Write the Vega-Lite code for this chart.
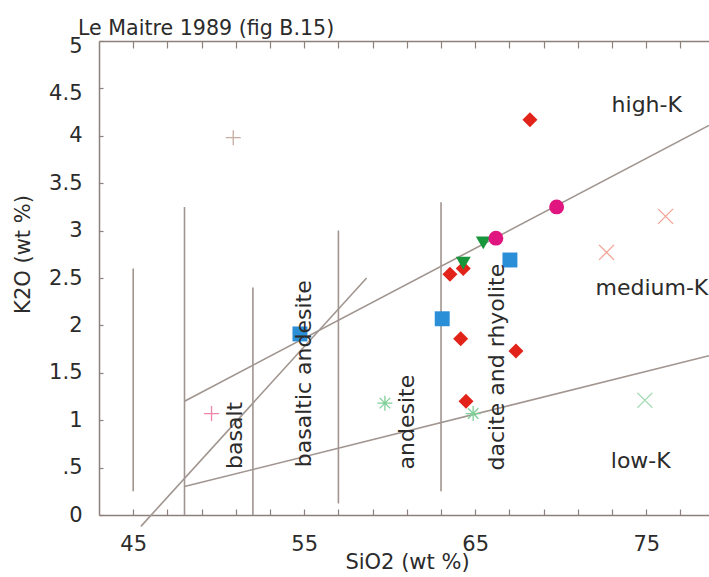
{
  "$schema": "https://vega.github.io/schema/vega-lite/v6.json",
  "autosize": {"type": "none"},
  "padding": {"left": 99, "top": 41, "right": 0, "bottom": 62},
  "width": 610,
  "height": 474,
  "background": "white",
  "title": {"text": "Le Maitre 1989 (fig B.15)", "anchor": "start", "frame": "group", "orient": "top", "baseline": "alphabetic", "offset": 9, "dx": -21, "dy": 30, "font": "DejaVu Sans", "fontSize": 20.6, "fontWeight": "normal", "color": "#2b2b2b"},
  "config": {
    "view": {"stroke": null},
    "axis": {"grid": false, "domainColor": "#8c807c", "domainWidth": 1.5, "tickColor": "#8c807c", "tickWidth": 1.2, "labelFont": "DejaVu Sans", "labelFontSize": 21, "labelColor": "#2b2b2b", "titleFont": "DejaVu Sans", "titleFontSize": 21, "titleFontWeight": "normal", "titleColor": "#2b2b2b"}
  },
  "datasets": {
    "lines": [
      {"x1": 45, "y1": 0.25, "x2": 45, "y2": 2.6},
      {"x1": 48, "y1": 0, "x2": 48, "y2": 3.25},
      {"x1": 52, "y1": 0, "x2": 52, "y2": 2.4},
      {"x1": 57, "y1": 0.12, "x2": 57, "y2": 3.0},
      {"x1": 63, "y1": 0.25, "x2": 63, "y2": 3.3},
      {"x1": 48, "y1": 1.2, "x2": 78.67, "y2": 4.11},
      {"x1": 48, "y1": 0.3, "x2": 78.67, "y2": 1.68},
      {"x1": 45.45, "y1": -0.12, "x2": 58.65, "y2": 2.5}
    ],
    "filledPts": [
      {"SiO2": 68.2, "K2O": 4.17, "sample": "A"},
      {"SiO2": 63.52, "K2O": 2.54, "sample": "A"},
      {"SiO2": 64.3, "K2O": 2.6, "sample": "A"},
      {"SiO2": 64.15, "K2O": 1.86, "sample": "A"},
      {"SiO2": 67.38, "K2O": 1.73, "sample": "A"},
      {"SiO2": 64.46, "K2O": 1.2, "sample": "A"},
      {"SiO2": 54.75, "K2O": 1.91, "sample": "B"},
      {"SiO2": 63.07, "K2O": 2.07, "sample": "B"},
      {"SiO2": 67.03, "K2O": 2.69, "sample": "B"},
      {"SiO2": 64.3, "K2O": 2.655, "sample": "C"},
      {"SiO2": 65.47, "K2O": 2.87, "sample": "C"},
      {"SiO2": 66.21, "K2O": 2.92, "sample": "D"},
      {"SiO2": 69.76, "K2O": 3.25, "sample": "D"}
    ],
    "openPts": [
      {"SiO2": 49.58, "K2O": 1.07, "sample": "E"},
      {"SiO2": 50.85, "K2O": 3.98, "sample": "F"},
      {"SiO2": 72.68, "K2O": 2.77, "sample": "G"},
      {"SiO2": 76.13, "K2O": 3.15, "sample": "G"},
      {"SiO2": 74.92, "K2O": 1.21, "sample": "H"},
      {"SiO2": 59.72, "K2O": 1.18, "sample": "I"},
      {"SiO2": 64.88, "K2O": 1.07, "sample": "I"}
    ],
    "rockLabels": [
      {"SiO2": 50.94, "K2O": 0.84, "label": "basalt"},
      {"SiO2": 54.98, "K2O": 1.49, "label": "basaltic andesite"},
      {"SiO2": 61.0, "K2O": 0.98, "label": "andesite"},
      {"SiO2": 66.29, "K2O": 1.56, "label": "dacite and rhyolite"}
    ],
    "kLabels": [
      {"SiO2": 75.03, "K2O": 4.33, "label": "high-K"},
      {"SiO2": 75.33, "K2O": 2.39, "label": "medium-K"},
      {"SiO2": 74.68, "K2O": 0.57, "label": "low-K"}
    ]
  },
  "layer": [
    {
      "data": {"name": "lines"},
      "mark": {"type": "rule", "color": "#a0958f", "strokeWidth": 1.6},
      "encoding": {
        "x": {"field": "x1", "type": "quantitative", "scale": {"domain": [43, 78.67], "nice": false, "zero": false},
          "axis": {"orient": "bottom", "values": [45, 47, 49, 51, 53, 55, 57, 59, 61, 63, 65, 67, 69, 71, 73, 75, 77], "labelExpr": "(datum.value - 45) % 10 === 0 ? format(datum.value, '~g') : ''", "tickSize": -6, "labelPadding": 24, "labelFlush": false, "labelOverlap": false, "title": "SiO2  (wt %)", "titleX": 308, "titleY": 36, "titleBaseline": "top", "titleAlign": "center"}},
        "x2": {"field": "x2"},
        "y": {"field": "y1", "type": "quantitative", "scale": {"domain": [0, 5], "nice": false, "zero": false},
          "axis": {"orient": "left", "values": [0, 0.5, 1, 1.5, 2, 2.5, 3, 3.5, 4, 4.5, 5], "labelExpr": "datum.value === 0.5 ? '.5' : format(datum.value, '~g')", "labelOffset": {"condition": {"test": "datum.value >= 4.5", "value": 5}, "value": 0}, "tickSize": -4, "labelPadding": 21, "labelFlush": false, "labelOverlap": false, "title": "K2O  (wt %)", "titleX": -76, "titleY": 213, "titleAngle": -90, "titleBaseline": "middle", "titleAlign": "center"}},
        "y2": {"field": "y2"}
      }
    },
    {
      "data": {"name": "filledPts"},
      "mark": {"type": "point", "filled": true, "opacity": 1},
      "encoding": {
        "x": {"field": "SiO2", "type": "quantitative", "scale": {"domain": [43, 78.67], "nice": false, "zero": false},
          "axis": {"orient": "top", "values": [45, 47, 49, 51, 53, 55, 57, 59, 61, 63, 65, 67, 69, 71, 73, 75, 77], "labels": false, "tickSize": -7, "title": null}},
        "y": {"field": "K2O", "type": "quantitative", "scale": {"domain": [0, 5], "nice": false, "zero": false}},
        "shape": {"field": "sample", "type": "nominal", "scale": {"domain": ["A", "B", "C", "D"], "range": ["diamond", "square", "triangle-down", "circle"]}, "legend": null},
        "color": {"field": "sample", "type": "nominal", "scale": {"domain": ["A", "B", "C", "D"], "range": ["#e2231a", "#2b8fd8", "#18963c", "#e0157f"]}, "legend": null},
        "size": {"field": "sample", "type": "nominal", "scale": {"domain": ["A", "B", "C", "D"], "range": [225, 220, 210, 200]}, "legend": null}
      }
    },
    {
      "data": {"name": "openPts"},
      "mark": {"type": "point", "filled": false, "strokeWidth": 1.3, "opacity": 1},
      "encoding": {
        "x": {"field": "SiO2", "type": "quantitative", "scale": {"domain": [43, 78.67], "nice": false, "zero": false}, "axis": null},
        "y": {"field": "K2O", "type": "quantitative", "scale": {"domain": [0, 5], "nice": false, "zero": false}},
        "shape": {"field": "sample", "type": "nominal", "scale": {"domain": ["E", "F", "G", "H", "I"], "range": ["M-1,0L1,0M0,-1L0,1", "M-1,0L1,0M0,-1L0,1", "M-1,-1L1,1M-1,1L1,-1", "M-1,-1L1,1M-1,1L1,-1", "M-1,0L1,0M0,-1L0,1M-0.7,-0.7L0.7,0.7M-0.7,0.7L0.7,-0.7"]}, "legend": null},
        "color": {"field": "sample", "type": "nominal", "scale": {"domain": ["E", "F", "G", "H", "I"], "range": ["#ef85ab", "#c9aca0", "#f2a394", "#a8dcb8", "#7fcf99"]}, "legend": null},
        "size": {"field": "sample", "type": "nominal", "scale": {"domain": ["E", "F", "G", "H", "I"], "range": [225, 225, 225, 225, 280]}, "legend": null}
      }
    },
    {
      "data": {"name": "rockLabels"},
      "mark": {"type": "text", "angle": -90, "align": "center", "baseline": "middle", "font": "DejaVu Sans", "fontSize": 22, "color": "#2b2b2b"},
      "encoding": {
        "x": {"field": "SiO2", "type": "quantitative", "scale": {"domain": [43, 78.67], "nice": false, "zero": false}, "axis": null},
        "y": {"field": "K2O", "type": "quantitative", "scale": {"domain": [0, 5], "nice": false, "zero": false}},
        "text": {"field": "label"}
      }
    },
    {
      "data": {"name": "kLabels"},
      "mark": {"type": "text", "align": "center", "baseline": "middle", "font": "DejaVu Sans", "fontSize": 22, "color": "#2b2b2b"},
      "encoding": {
        "x": {"field": "SiO2", "type": "quantitative", "scale": {"domain": [43, 78.67], "nice": false, "zero": false}, "axis": null},
        "y": {"field": "K2O", "type": "quantitative", "scale": {"domain": [0, 5], "nice": false, "zero": false}},
        "text": {"field": "label"}
      }
    }
  ],
  "resolve": {"axis": {"x": "independent"}, "scale": {"color": "independent", "shape": "independent", "size": "independent"}}
}
